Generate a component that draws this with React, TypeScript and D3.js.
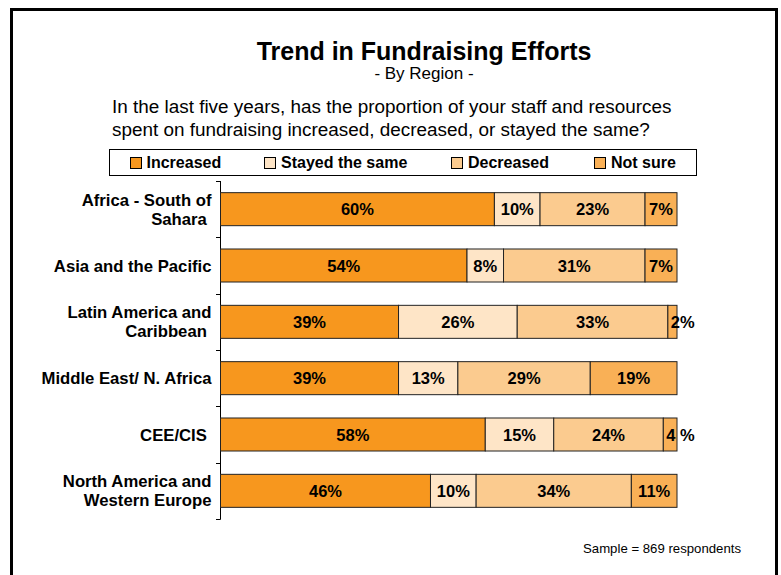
import React from "react";
import * as d3 from "d3";

const categories = [
  ["Africa - South of", "Sahara "],
  ["Asia and the Pacific"],
  ["Latin America and", "Caribbean "],
  ["Middle East/ N. Africa"],
  ["CEE/CIS "],
  ["North America and", "Western Europe"],
];
const seriesNames = ["Increased", "Stayed the same", "Decreased", "Not sure"];
const increased = [60, 54, 39, 39, 58, 46];
const stayed = [10, 8, 26, 13, 15, 10];
const decreased = [23, 31, 33, 29, 24, 34];
const notSure = [7, 7, 2, 19, 4, 11];
const colors = ["#F7971E", "#FEE5C7", "#FBCB8F", "#F9B056"];

const W = 781;
const H = 575;
const font = "'Liberation Sans', Arial, Helvetica, sans-serif";

export default function App() {
  const series = [increased, stayed, decreased, notSure];
  const x = d3.scaleLinear().domain([0, 100]).range([220.5, 677]).clamp(true);
  const y = d3
    .scaleBand<number>()
    .domain(d3.range(categories.length))
    .range([181, 519])
    .paddingInner(0.414)
    .paddingOuter(0.207);
  const step = y.step();
  const bh = y.bandwidth();

  const legendItems = [
    { sq: 130.5, tx: 146.5 },
    { sq: 264.5, tx: 281 },
    { sq: 451.5, tx: 468 },
    { sq: 594.5, tx: 611 },
  ];

  return (
    <svg
      width={W}
      height={H}
      style={{ position: "absolute", left: 0, top: 0, background: "#fff" }}
    >
      <rect x={0} y={0} width={W} height={H} fill="#fff" />
      <rect x={11.5} y={9.5} width={765} height={620} fill="none" stroke="#000" strokeWidth={3} />
      <text x={424} y={60} textAnchor="middle" fontFamily={font} fontWeight="bold" fontSize={25}>
        Trend in Fundraising Efforts
      </text>
      <text x={424} y={79} textAnchor="middle" fontFamily={font} fontSize={17}>
        - By Region -
      </text>
      <text x={112} y={113} fontFamily={font} fontSize={18.9}>
        In the last five years, has the proportion of your staff and resources
      </text>
      <text x={112} y={136} fontFamily={font} fontSize={18.9}>
        spent on fundraising increased, decreased, or stayed the same?
      </text>

      {/* legend */}
      <rect x={109.5} y={149.5} width={587} height={26} fill="#fff" stroke="#000" strokeWidth={1} />
      {seriesNames.map((n, i) => (
        <g key={n}>
          <rect
            x={legendItems[i].sq}
            y={157.5}
            width={11}
            height={11}
            fill={colors[i]}
            stroke="#000"
            strokeWidth={1}
          />
          <text x={legendItems[i].tx} y={168} fontFamily={font} fontWeight="bold" fontSize={16}>
            {n}
          </text>
        </g>
      ))}

      {/* axis */}
      <line x1={220.5} x2={220.5} y1={181} y2={519.5} stroke="#000" strokeWidth={1} />
      {d3.range(categories.length + 1).map((i) => {
        const yy = Math.round(181 + i * step) + 0.5;
        return <line key={i} x1={216} x2={220.5} y1={yy} y2={yy} stroke="#000" strokeWidth={1} />;
      })}

      {/* category labels */}
      {categories.map((lines, i) => {
        const cy = (y(i) as number) + bh / 2;
        const lh = 19;
        const first = cy + 6 - ((lines.length - 1) * lh) / 2;
        return (
          <text
            key={i}
            textAnchor="end"
            fontFamily={font}
            fontWeight="bold"
            fontSize={16.7}
            style={{ whiteSpace: "pre" }}
          >
            {lines.map((l, j) => (
              <tspan key={j} x={211.5} y={first + j * lh}>
                {l}
              </tspan>
            ))}
          </text>
        );
      })}

      {/* bars */}
      {categories.map((_, i) => {
        let cum = 0;
        const y0 = y(i) as number;
        return (
          <g key={i}>
            {series.map((s, k) => {
              const v = s[i];
              const a = cum;
              const b = cum + v;
              cum = b;
              const x0 = x(a);
              const x1 = x(b);
              const w = x1 - x0;
              const small = w < 22;
              const label = k === 3 && v === 4 ? "4 %" : `${v}%`;
              return (
                <g key={k}>
                  <rect
                    x={x0}
                    y={y0}
                    width={w}
                    height={bh}
                    fill={colors[k]}
                    stroke="#222"
                    strokeWidth={1}
                  />
                  <text
                    x={small ? x0 + 3 : (x0 + x1) / 2}
                    y={y0 + bh / 2 + 6}
                    textAnchor={small ? "start" : "middle"}
                    fontFamily={font}
                    fontWeight="bold"
                    fontSize={16.5}
                    style={{ whiteSpace: "pre" }}
                  >
                    {label}
                  </text>
                </g>
              );
            })}
          </g>
        );
      })}

      <text x={741} y={553} textAnchor="end" fontFamily={font} fontSize={13.2}>
        Sample = 869 respondents
      </text>
    </svg>
  );
}
